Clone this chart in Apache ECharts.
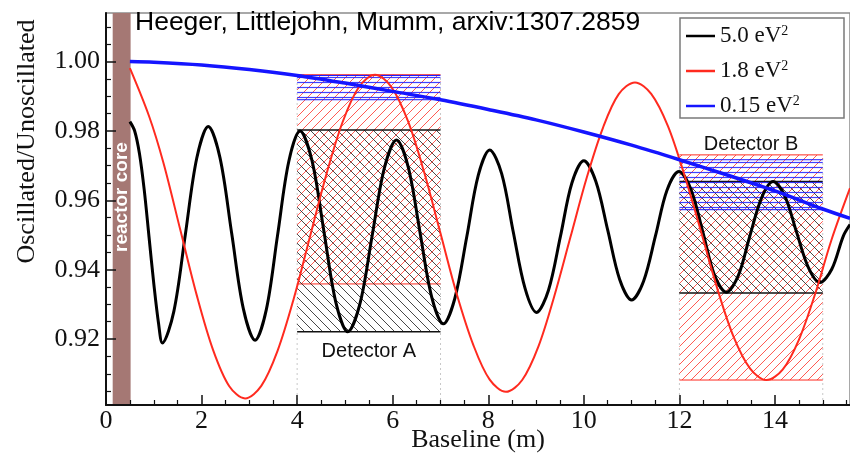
<!DOCTYPE html>
<html>
<head>
<meta charset="utf-8">
<script src="https://cdn.jsdelivr.net/npm/echarts@6/dist/echarts.min.js"></script>
<style>
  html, body { margin: 0; padding: 0; background: #fff; }
  #chart { width: 850px; height: 454px; }
</style>
</head>
<body>
<div id="chart"></div>
<script>
// Baseline (m) and oscillated/unoscillated ratio, one pair of arrays per mass splitting
const baseline50 = [0.50, 0.60, 0.70, 0.80, 0.90, 1.00, 1.10, 1.18, 1.42, 1.66, 1.90, 2.14, 2.385, 2.63, 2.875,
  3.12, 3.355, 3.59, 3.825, 4.06, 4.31, 4.56, 4.81, 5.06, 5.315, 5.57, 5.825, 6.08, 6.325, 6.57, 6.815,
  7.06, 7.30, 7.55, 7.79, 8.03, 8.28, 8.52, 8.77, 9.01, 9.26, 9.51, 9.75, 10.00, 10.25, 10.50, 10.75,
  11.00, 11.25, 11.50, 11.74, 11.99, 12.24, 12.49, 12.73, 12.98, 13.23, 13.47, 13.72, 13.96, 14.21,
  14.45, 14.70, 14.94, 15.19, 15.43, 15.57];
const ratio50 = [0.9827, 0.9800, 0.9735, 0.9630, 0.9495, 0.9360, 0.9245, 0.9189, 0.9280, 0.9501, 0.9722, 0.9813, 0.9723, 0.9505, 0.9287,
  0.9197, 0.9285, 0.9499, 0.9712, 0.9800, 0.9715, 0.9511, 0.9306, 0.9221, 0.9302, 0.9498, 0.9693, 0.9774, 0.9696, 0.9509, 0.9322,
  0.9244, 0.9317, 0.9495, 0.9672, 0.9745, 0.9677, 0.9511, 0.9346, 0.9277, 0.9341, 0.9496, 0.9650, 0.9714, 0.9655, 0.9514, 0.9372,
  0.9313, 0.9367, 0.9498, 0.9629, 0.9683, 0.9632, 0.9509, 0.9386, 0.9335, 0.9382, 0.9495, 0.9607, 0.9654, 0.9611,
  0.9509, 0.9406, 0.9363, 0.9402, 0.9497, 0.9530];

const baseline18 = [0.50, 0.90, 1.20, 1.56, 1.90, 2.24, 2.58, 2.91, 3.25, 3.59, 3.93, 4.27, 4.61, 4.95, 5.29, 5.63,
  5.97, 6.32, 6.66, 7.00, 7.34, 7.69, 8.03, 8.37, 8.71, 9.05, 9.38, 9.72, 10.06, 10.40, 10.73, 11.07,
  11.41, 11.76, 12.10, 12.45, 12.79, 13.13, 13.48, 13.82, 14.16, 14.50, 14.84, 15.18, 15.57];
const ratio18 = [0.9981, 0.9843, 0.9709, 0.9512, 0.9326, 0.9169, 0.9064, 0.9029, 0.9065, 0.9166, 0.9317, 0.9496, 0.9674, 0.9825, 0.9926, 0.9962,
  0.9927, 0.9828, 0.9680, 0.9505, 0.9330, 0.9182, 0.9083, 0.9048, 0.9082, 0.9179, 0.9323, 0.9494, 0.9665, 0.9809, 0.9906, 0.9940,
  0.9907, 0.9814, 0.9675, 0.9511, 0.9347, 0.9208, 0.9115, 0.9082, 0.9112, 0.9198, 0.9330, 0.9485, 0.9635];

const baseline015 = [0.5, 1, 2, 3, 4, 5, 6, 7, 8, 9, 10, 11, 12, 13, 14, 15, 15.57];
const ratio015 = [1.0000, 0.9998, 0.9990, 0.9977, 0.9960, 0.9938, 0.9914, 0.9890, 0.9862, 0.9832, 0.9797, 0.9759, 0.9717, 0.9673, 0.9627, 0.9575, 0.9548];

const curveNames = ['5.0', '1.8', '0.15'];

// Detector extents along the baseline and the ratio band each curve sweeps inside them
const detectorNames = ['Detector A', 'Detector B'];
const detectorStart = [4, 12];
const detectorEnd = [7, 15];
const band50 = [[0.9221, 0.9803], [0.9333, 0.9654]];
const band18 = [[0.9359, 0.9962], [0.9082, 0.9731]];
const band015 = [[0.9890, 0.9960], [0.9573, 0.9717]];

// Reactor core extent (m)
const coreSpan = [0.14, 0.515];

// Axis ranges and ticks
const xRange = [0, 15.57];
const yRange = [0.901, 1.014];
const xMajorTicks = [0, 2, 4, 6, 8, 10, 12, 14];
const xMinorTicks = [0.5, 1, 1.5, 2.5, 3, 3.5, 4.5, 5, 5.5, 6.5, 7, 7.5, 8.5, 9, 9.5, 10.5, 11, 11.5, 12.5, 13, 13.5, 14.5, 15, 15.5];
const yMajorTicks = [0.92, 0.94, 0.96, 0.98, 1.00];
const yMinorTicks = [0.905, 0.91, 0.915, 0.925, 0.93, 0.935, 0.945, 0.95, 0.955, 0.965, 0.97, 0.975, 0.985, 0.99, 0.995, 1.005, 1.01];

const RED = '#ff2a1f';
const BLUE = '#1515ff';
const BLACK = '#000000';

// Tiled hatch patterns for the detector bands
function hatch(kind, color, size, width) {
  const c = document.createElement('canvas');
  c.width = size; c.height = size;
  const ctx = c.getContext('2d');
  ctx.strokeStyle = color;
  ctx.lineWidth = width;
  ctx.beginPath();
  if (kind === 'horizontal') {
    ctx.moveTo(0, size / 2); ctx.lineTo(size, size / 2);
  } else {
    for (let k = -1; k <= 1; k++) {
      if (kind === 'forward') { ctx.moveTo(k * size, size); ctx.lineTo(k * size + size, 0); }
      else { ctx.moveTo(k * size, 0); ctx.lineTo(k * size + size, size); }
    }
  }
  ctx.stroke();
  return { image: c, repeat: 'repeat' };
}

const pattern50 = hatch('back', 'rgba(40,40,40,0.85)', 9, 1);
const pattern18 = hatch('forward', 'rgba(255,50,40,0.8)', 9, 1);
const pattern015 = hatch('horizontal', 'rgba(30,30,255,0.85)', 5, 1.2);

function bandItems(bands) {
  return bands.map((b, i) => [detectorStart[i], detectorEnd[i], b[0], b[1]]);
}

function bandRenderer(fill, edge, edgeWidth) {
  return function (params, api) {
    const p0 = api.coord([api.value(0), api.value(3)]);
    const p1 = api.coord([api.value(1), api.value(2)]);
    return {
      type: 'group',
      children: [
        { type: 'rect', shape: { x: p0[0], y: p0[1], width: p1[0] - p0[0], height: p1[1] - p0[1] }, style: { fill: fill } },
        { type: 'line', shape: { x1: p0[0], y1: p0[1], x2: p1[0], y2: p0[1] }, style: { stroke: edge, lineWidth: edgeWidth } },
        { type: 'line', shape: { x1: p0[0], y1: p1[1], x2: p1[0], y2: p1[1] }, style: { stroke: edge, lineWidth: edgeWidth } }
      ]
    };
  };
}

// Dotted guides from the axis up to the top of each detector band
const guideItems = [];
detectorStart.forEach((x0, i) => {
  const top = Math.max(band50[i][1], band18[i][1], band015[i][1]);
  guideItems.push([x0, top], [detectorEnd[i], top]);
});

// Detector captions: A sits under its bands, B above them
const captionItems = detectorNames.map((name, i) => {
  const lo = Math.min(band50[i][0], band18[i][0], band015[i][0]);
  const hi = Math.max(band50[i][1], band18[i][1], band015[i][1]);
  return [(detectorStart[i] + detectorEnd[i]) / 2, lo, hi];
});

const toPairs = (xs, ys) => xs.map((x, i) => [x, ys[i]]);

const serifFont = 'Liberation Serif';

const chart = echarts.init(document.getElementById('chart'), null, { renderer: 'canvas' });

chart.setOption({
  animation: false,
  backgroundColor: '#ffffff',
  grid: { left: 106, right: 0, top: 13, bottom: 49, outerBoundsMode: 'none', containLabel: false,
    show: true, borderColor: '#8c8c8c', borderWidth: 1.5, backgroundColor: 'transparent' },
  xAxis: [
    {
      type: 'value', min: xRange[0], max: xRange[1], position: 'bottom', z: 5,
      axisLine: { show: true, onZero: false, lineStyle: { color: '#111', width: 2 } },
      axisTick: { show: true, inside: true, length: 10, customValues: xMajorTicks, lineStyle: { color: '#111', width: 1.5 } },
      axisLabel: { customValues: xMajorTicks, margin: 3, fontFamily: serifFont, fontSize: 26, color: '#111' },
      splitLine: { show: false }
    },
    {
      type: 'value', min: xRange[0], max: xRange[1], position: 'bottom', z: 5,
      axisLine: { show: false },
      axisTick: { show: true, inside: true, length: 5, customValues: xMinorTicks, lineStyle: { color: '#111', width: 1.2 } },
      axisLabel: { show: false },
      splitLine: { show: false }
    }
  ],
  yAxis: [
    {
      type: 'value', min: yRange[0], max: yRange[1], position: 'left', z: 5,
      axisLine: { show: true, onZero: false, lineStyle: { color: '#111', width: 2 } },
      axisTick: { show: true, inside: true, length: 10, customValues: yMajorTicks, lineStyle: { color: '#111', width: 1.5 } },
      axisLabel: { customValues: yMajorTicks, margin: 6, fontFamily: serifFont, fontSize: 26, color: '#111',
        formatter: v => v.toFixed(2) },
      splitLine: { show: false }
    },
    {
      type: 'value', min: yRange[0], max: yRange[1], position: 'left', z: 5,
      axisLine: { show: false },
      axisTick: { show: true, inside: true, length: 5, customValues: yMinorTicks, lineStyle: { color: '#111', width: 1.2 } },
      axisLabel: { show: false },
      splitLine: { show: false }
    }
  ],
  legend: {
    data: curveNames,
    orient: 'vertical', left: 686, top: 24, itemWidth: 29, itemHeight: 2.5, itemGap: 11.5, icon: 'rect',
    padding: 0, z: 6,
    formatter: n => '{a|' + n + ' eV}{s|2}',
    textStyle: {
      color: '#111',
      rich: {
        a: { fontFamily: serifFont, fontSize: 23, lineHeight: 24, color: '#111' },
        s: { fontFamily: serifFont, fontSize: 14, lineHeight: 24, verticalAlign: 'top', color: '#111' }
      }
    }
  },
  graphic: [
    { type: 'rect', z: 5, shape: { x: 680, y: 18, width: 164, height: 100 }, style: { fill: '#fff', stroke: '#7a7a7a', lineWidth: 1.5 } },
    { type: 'text', z: 6, x: 135, y: 23, style: { text: 'Heeger, Littlejohn, Mumm, arxiv:1307.2859', font: '26.5px "Liberation Sans"', fill: '#000', align: 'left', verticalAlign: 'middle' } },
    { type: 'text', z: 6, x: 478, y: 440, style: { text: 'Baseline (m)', font: '26px "Liberation Serif"', fill: '#111', align: 'center', verticalAlign: 'middle' } },
    { type: 'text', z: 6, x: 27, y: 141.5, rotation: Math.PI / 2, style: { text: 'Oscillated/Unoscillated', font: '26px "Liberation Serif"', fill: '#111', align: 'center', verticalAlign: 'middle' } },
    { type: 'text', z: 6, x: 121.5, y: 197, rotation: Math.PI / 2, style: { text: 'reactor core', font: 'bold 19px "Liberation Sans"', fill: '#ffffff', align: 'center', verticalAlign: 'middle' } }
  ],
  series: [
    {
      type: 'custom', z: 1, silent: true,
      data: [coreSpan],
      encode: { x: [0, 1] },
      renderItem: (params, api) => {
        const p0 = api.coord([api.value(0), yRange[1]]);
        const p1 = api.coord([api.value(1), yRange[0]]);
        return { type: 'rect', shape: { x: p0[0], y: p0[1], width: p1[0] - p0[0], height: p1[1] - p0[1] }, style: { fill: '#a57874' } };
      }
    },
    {
      type: 'custom', z: 1, silent: true,
      data: guideItems,
      encode: { x: 0, y: 1 },
      renderItem: (params, api) => {
        const a = api.coord([api.value(0), yRange[0]]);
        const b = api.coord([api.value(0), api.value(1)]);
        return { type: 'line', shape: { x1: a[0], y1: a[1], x2: b[0], y2: b[1] }, style: { stroke: '#c8c8c8', lineWidth: 1, lineDash: [2, 3] } };
      }
    },
    { type: 'custom', z: 1, silent: true, data: bandItems(band18), encode: { x: [0, 1], y: [2, 3] }, renderItem: bandRenderer(pattern18, RED, 1) },
    { type: 'custom', z: 1, silent: true, data: bandItems(band50), encode: { x: [0, 1], y: [2, 3] }, renderItem: bandRenderer(pattern50, '#111', 1.5) },
    { type: 'custom', z: 1, silent: true, data: bandItems(band015), encode: { x: [0, 1], y: [2, 3] }, renderItem: bandRenderer(pattern015, BLUE, 1) },
    {
      type: 'custom', z: 3, silent: true,
      data: captionItems,
      encode: { x: 0, y: [1, 2] },
      renderItem: (params, api) => {
        const below = params.dataIndex === 0;
        const p = api.coord([api.value(0), below ? api.value(1) : api.value(2)]);
        return {
          type: 'text', x: p[0], y: below ? p[1] + 20 : p[1] - 10,
          style: { text: detectorNames[params.dataIndex], font: '20px "Liberation Sans"', fill: '#111', align: 'center', verticalAlign: 'middle' }
        };
      }
    },
    {
      name: curveNames[0], type: 'line', z: 2, data: toPairs(baseline50, ratio50), smooth: 0.33, showSymbol: false,
      itemStyle: { color: BLACK }, lineStyle: { color: BLACK, width: 3 }
    },
    {
      name: curveNames[1], type: 'line', z: 2, data: toPairs(baseline18, ratio18), smooth: 0.33, showSymbol: false,
      itemStyle: { color: RED }, lineStyle: { color: RED, width: 2 }
    },
    {
      name: curveNames[2], type: 'line', z: 2, data: toPairs(baseline015, ratio015), smooth: 0.33, showSymbol: false,
      itemStyle: { color: BLUE }, lineStyle: { color: BLUE, width: 3.5 }
    }
  ]
});
</script>
</body>
</html>
